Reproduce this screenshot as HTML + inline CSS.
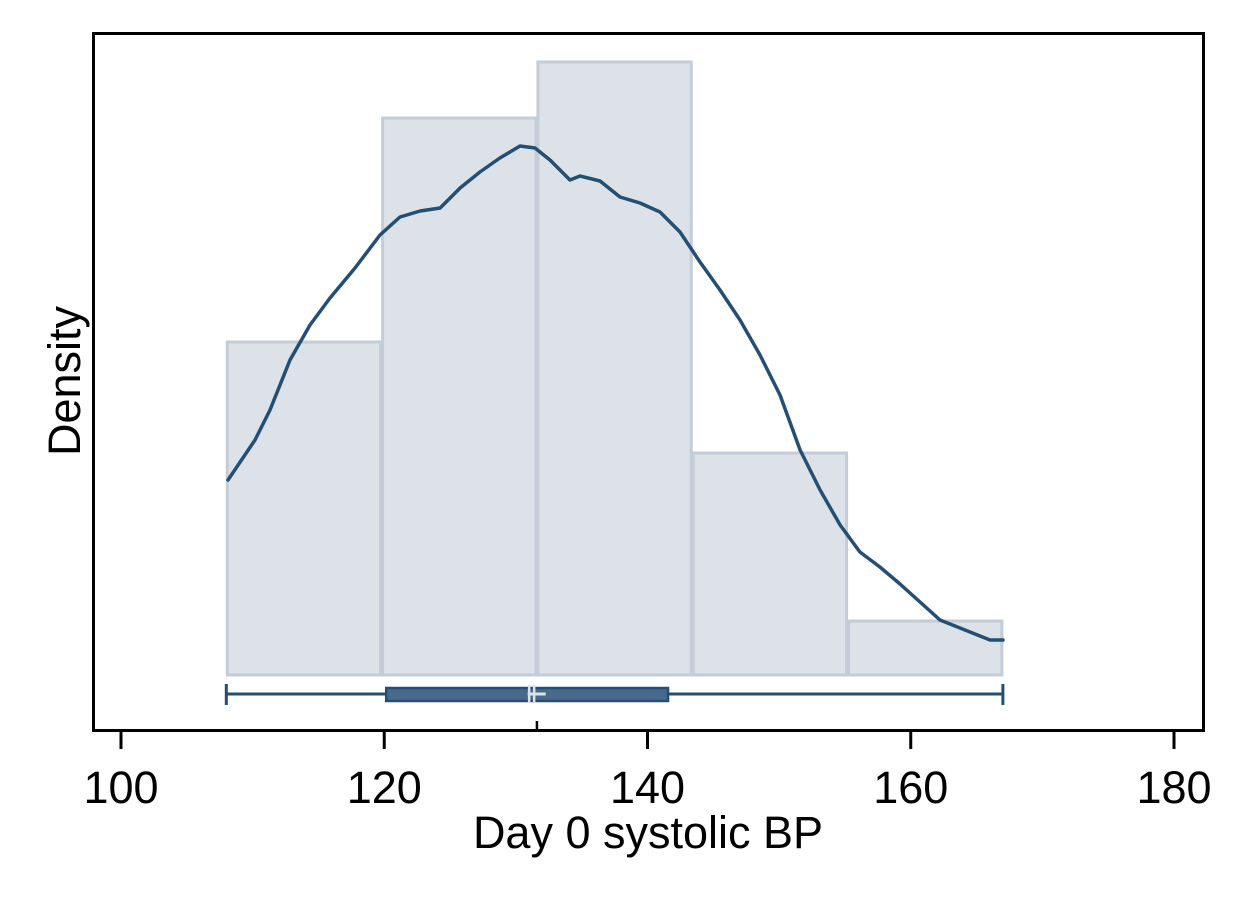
<!DOCTYPE html>
<html><head><meta charset="utf-8"><style>
body{margin:0;background:#fff;}
svg{display:block;font-family:"Liberation Sans",Arial,sans-serif;}
</style></head><body>
<svg id="chart" width="1237" height="899">
<rect x="0" y="0" width="1237" height="899" fill="#fff"/>
<g id="bars"></g>
<g id="box"></g>
<path id="curve" fill="none" stroke="#244f74" stroke-width="3.5" stroke-linejoin="round" stroke-linecap="round"/>
<rect x="93.5" y="33.5" width="1110" height="697" fill="none" stroke="#000" stroke-width="3"/>
<g id="xaxis"></g>
<text x="648" y="848" font-size="45" text-anchor="middle">Day 0 systolic BP</text>
<text transform="translate(80,381) rotate(-90)" font-size="45" text-anchor="middle">Density</text>
</svg>
<script>
const binEdges=[108,119.8,131.6,143.4,155.2,167];
const binDensity=[0.01665,0.02785,0.03065,0.0111,0.0027];
const curveX=[108.13,110.18,111.32,112.84,114.36,115.88,117.78,119.68,121.2,122.72,124.24,125.76,127.27,128.79,130.31,131.45,132.59,134.11,134.87,136.39,137.91,139.43,140.95,142.47,143.99,145.51,147.03,148.55,150.07,151.59,153.11,154.63,156.14,157.66,159.18,160.7,162.22,163.74,166.02,167.01];
const curveY=[0.00975,0.01175,0.01325,0.01575,0.0175,0.01885,0.02035,0.022,0.0229,0.0232,0.02335,0.02435,0.02515,0.02585,0.02645,0.02635,0.02575,0.02475,0.02495,0.0247,0.0239,0.0236,0.02315,0.02215,0.02065,0.01925,0.01775,0.016,0.014,0.01125,0.00925,0.0075,0.00615,0.0054,0.00455,0.00365,0.00275,0.00235,0.00175,0.00175];
const boxStats=[108,120.15,131.2,141.56,167];
const xTicks=[100,120,140,160,180];
const xs=v=>121+(v-100)*13.1625;
const ys=v=>675-v*20000;
const NS="http://www.w3.org/2000/svg";
function mk(t,a,p){const e=document.createElementNS(NS,t);for(const k in a)e.setAttribute(k,a[k]);p.appendChild(e);return e;}
const bars=document.getElementById('bars');
binDensity.forEach((d,i)=>{
 const x0=xs(binEdges[i]),x1=xs(binEdges[i+1]);
 const r=mk('rect',{x:x0+1,y:ys(d),width:x1-x0-2,height:ys(0)-ys(d),fill:'#dde2e9',stroke:'#c3ccd7','stroke-width':3},bars);
 
 
});
let dpath='';
curveX.forEach((x,i)=>{dpath+=(i?'L':'M')+xs(x).toFixed(1)+' '+ys(curveY[i]).toFixed(1);});
document.getElementById('curve').setAttribute('d',dpath);
const box=document.getElementById('box');
const by=694;
mk('line',{x1:xs(boxStats[0]),x2:xs(boxStats[4]),y1:by,y2:by,stroke:'#244f74','stroke-width':3},box);
[0,4].forEach(i=>mk('line',{x1:xs(boxStats[i]),x2:xs(boxStats[i]),y1:684,y2:705,stroke:'#244f74','stroke-width':3},box));
const br=mk('rect',{x:xs(boxStats[1]),y:688,width:xs(boxStats[3])-xs(boxStats[1]),height:13,fill:'#48698b',stroke:'#244f74','stroke-width':2.5},box);


const mx=xs(boxStats[2]);
mk('line',{x1:mx-2.5,x2:mx-2.5,y1:685,y2:703,stroke:'#dde2e9','stroke-width':2.5},box);
mk('line',{x1:mx+2.5,x2:mx+2.5,y1:685,y2:703,stroke:'#dde2e9','stroke-width':2.5},box);
mk('line',{x1:mx-4,x2:mx+14,y1:694,y2:694,stroke:'#dde2e9','stroke-width':3},box);
const xa=document.getElementById('xaxis');
mk('line',{x1:xs(131.6),x2:xs(131.6),y1:721,y2:731,stroke:'#000','stroke-width':2.5},xa);
xTicks.forEach(t=>{
 const x=xs(t);
 mk('line',{x1:x,x2:x,y1:731,y2:749,stroke:'#000','stroke-width':3},xa);
 const tx=mk('text',{x:x,y:803,'font-size':45,'text-anchor':'middle'},xa);
 tx.textContent=t;
 
 
});
</script>
</body></html>
